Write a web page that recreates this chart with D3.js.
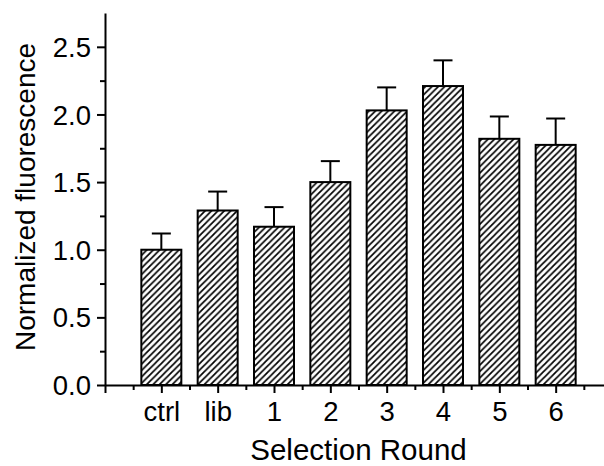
<!DOCTYPE html>
<html><head><meta charset="utf-8">
<script src="https://cdn.jsdelivr.net/npm/d3@7"></script>
<style>
html,body{margin:0;padding:0;background:#fff;}
svg text{font-family:"Liberation Sans",Arial,Helvetica,sans-serif;fill:#000;}
</style></head>
<body>
<svg id="c" width="604" height="466"></svg>
<script>
const categories = ["ctrl","lib","1","2","3","4","5","6"];
const values = [1.00, 1.29, 1.17, 1.50, 2.03, 2.21, 1.82, 1.775];
const errors = [0.12, 0.14, 0.145, 0.155, 0.17, 0.19, 0.165, 0.195];
const yTicks = [0, 0.5, 1.0, 1.5, 2.0, 2.5];
const yMinorTicks = [0.25, 0.75, 1.25, 1.75, 2.25];
const xTitle = "Selection Round";
const yTitle = "Normalized fluorescence";

const svg = d3.select("#c");
const x = d3.scaleLinear().domain([0, 9]).range([105, 612]);
const y = d3.scaleLinear().domain([0, 2.75]).range([385, 13]);
const barW = x(0.71) - x(0);

// hatch pattern
const p = 6.4;
const defs = svg.append("defs");
defs.append("pattern").attr("id","hatch").attr("patternUnits","userSpaceOnUse")
  .attr("width", p).attr("height", p)
  .append("path")
  .attr("d", `M0,${p} L${p},0 M${-p/4},${p/4} L${p/4},${-p/4} M${p*3/4},${p*5/4} L${p*5/4},${p*3/4}`)
  .attr("stroke","#000").attr("stroke-width",1.7).attr("fill","none");

// bars
svg.append("g").selectAll("rect").data(values).join("rect")
  .attr("x", (d,i) => x(i+1) - barW/2)
  .attr("y", d => y(d))
  .attr("width", barW)
  .attr("height", d => y(0) - y(d))
  .attr("fill", "url(#hatch)")
  .attr("stroke", "#000").attr("stroke-width", 2);

// error bars (upper only)
const eg = svg.append("g").attr("stroke","#000").attr("stroke-width",2);
values.forEach((v,i) => {
  const cx = x(i+1);
  eg.append("line").attr("x1",cx).attr("x2",cx).attr("y1",y(v)).attr("y2",y(v+errors[i]));
  eg.append("line").attr("x1",cx-9.5).attr("x2",cx+9.5).attr("y1",y(v+errors[i])).attr("y2",y(v+errors[i]));
});

// x axis
const xMajor = d3.range(0, 9);
const xMinor = d3.range(0, 9).map(d => d + 0.5);
const xa = svg.append("g").attr("transform", `translate(0,${y(0)})`)
  .call(d3.axisBottom(x).tickValues(xMajor).tickSize(8).tickSizeOuter(0)
    .tickFormat(d => d === 0 ? "" : categories[d-1]));
svg.append("g").attr("transform", `translate(0,${y(0)})`)
  .call(d3.axisBottom(x).tickValues(xMinor).tickSize(5).tickSizeOuter(0).tickFormat(""))
  .call(g => g.select(".domain").remove());

// y axis
const ya = svg.append("g").attr("transform", `translate(${x(0)},0)`)
  .call(d3.axisLeft(y).tickValues(yTicks).tickSize(8).tickSizeOuter(0).tickFormat(d3.format(".1f")));
svg.append("g").attr("transform", `translate(${x(0)},0)`)
  .call(d3.axisLeft(y).tickValues(yMinorTicks).tickSize(5).tickSizeOuter(0).tickFormat(""))
  .call(g => g.select(".domain").remove());

svg.selectAll(".domain, .tick line").attr("stroke","#000").attr("stroke-width",2);
xa.selectAll(".tick text").attr("font-size", 27.5).attr("dy", null).attr("y", 36).attr("fill","#000")
  .attr("font-family",'"Liberation Sans",Arial,sans-serif');
ya.selectAll(".tick text").attr("font-size", 27.5).attr("x", -14).attr("dy","0.35em").attr("fill","#000")
  .attr("font-family",'"Liberation Sans",Arial,sans-serif');

// titles
svg.append("text").attr("x", (x(0)+x(9))/2).attr("y", 460)
  .attr("text-anchor","middle").attr("font-size", 29.5).text(xTitle);
svg.append("text").attr("transform", `translate(35,197) rotate(-90)`)
  .attr("text-anchor","middle").attr("font-size", 28).text(yTitle);
</script>
</body></html>
